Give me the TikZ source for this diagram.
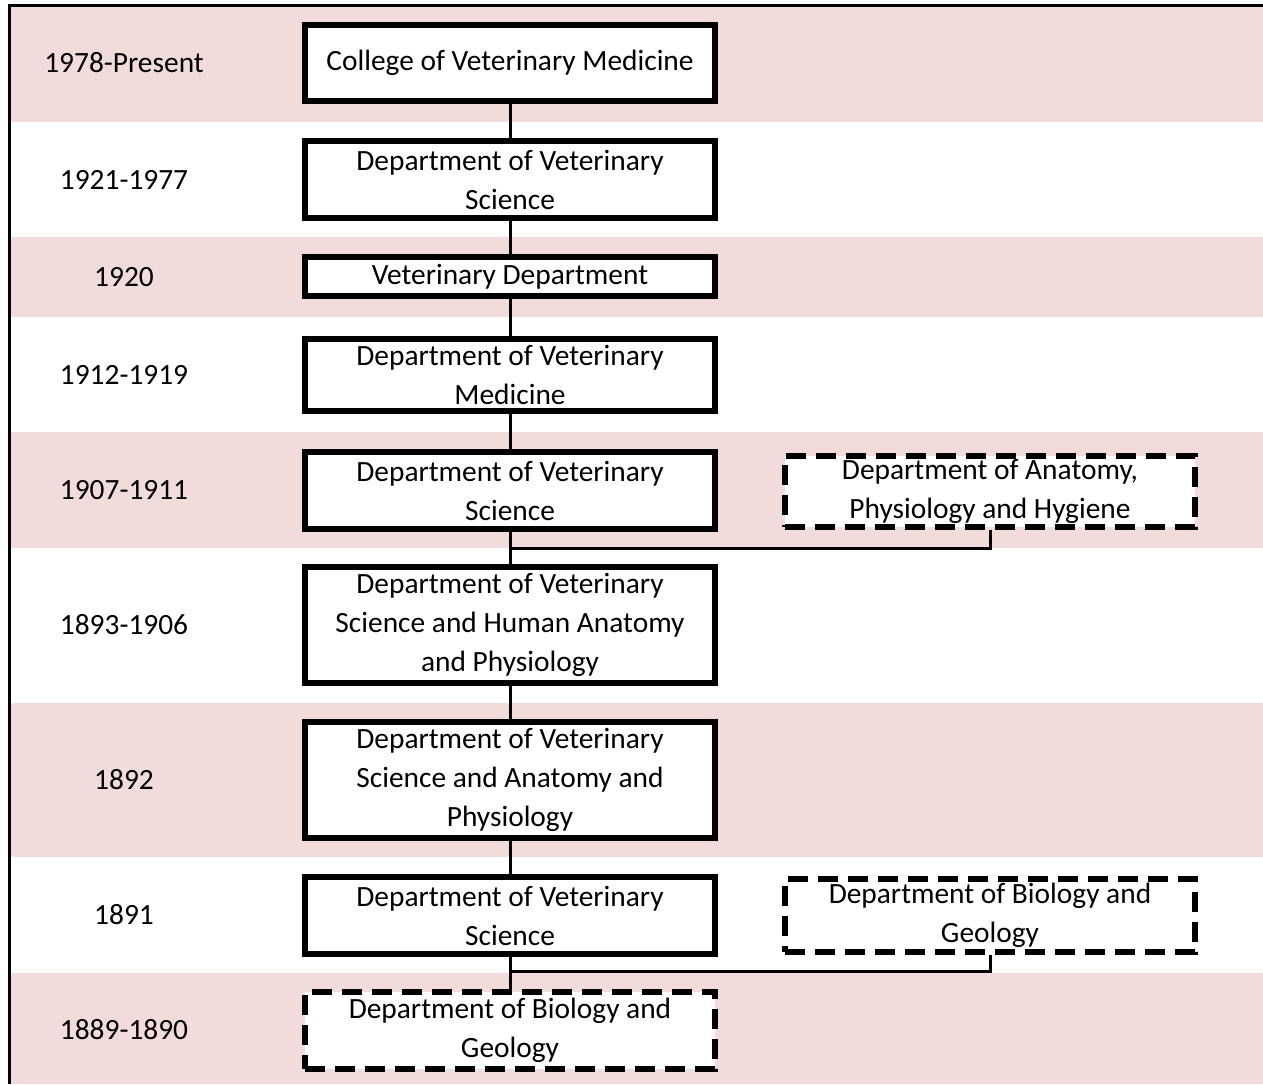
\documentclass[tikz,border=0pt]{standalone}
\usepackage{fontspec}
\setmainfont{Carlito}
\definecolor{rowpink}{HTML}{F2DCDB}

\begin{document}
\begin{tikzpicture}[
		x=1pt, y=-1pt,
		font=\fontsize{29.4}{39}\selectfont,
		unit/.style={draw, line width=6pt, fill=white, minimum width=410pt, align=center, inner sep=0pt},
		oldunit/.style={unit, dash pattern=on 20pt off 10pt},
		link/.style={line width=3pt},
%		year/.style={align=center},
		]
	\useasboundingbox (0,0) rectangle (1263,1084);
	% shaded rows
	\foreach \ya/\yb in {7/122, 237/317, 432/548, 703/857, 973/1084}
		\fill[rowpink] (11,\ya) rectangle (1263,\yb);
	\draw[line width=3.5pt] (8,5.5) -- (1263,5.5);
	\draw[line width=3.5pt] (9.5,4) -- (9.5,1084);

	% years
	\node (y1) at (124,63) {1978-Present};
	\node (y2) at (124,180) {1921-1977};
	\node (y3) at (124,277) {1920};
	\node (y4) at (124,375) {1912-1919};
	\node (y5) at (124,490) {1907-1911};
	\node (y6) at (124,625) {1893-1906};
	\node (y7) at (124,780) {1892};
	\node (y8) at (124,915) {1891};
	\node (y9) at (124,1030) {1889-1890};

	% units
	\node[unit, minimum height=76pt] (cvm) at (510,63) {College of Veterinary Medicine};
	\node[unit, minimum height=77pt] (dvs21) at (510,179.5) {Department of Veterinary\\Science};
	\node[unit, minimum height=39pt] (vd) at (510,276.5) {Veterinary Department};
	\node[unit, minimum height=72pt] (dvm) at (510,375) {Department of Veterinary\\Medicine};
	\node[unit, minimum height=77pt] (dvs07) at (510,490.5) {Department of Veterinary\\Science};
	\node[oldunit, minimum height=71pt] (daph) at (990,491) {Department of Anatomy,\\Physiology and Hygiene};
	\node[unit, minimum height=116pt] (dvsha) at (510,625) {Department of Veterinary\\Science and Human Anatomy\\and Physiology};
	\node[unit, minimum height=116pt] (dvsap) at (510,780) {Department of Veterinary\\Science and Anatomy and\\Physiology};
	\node[unit, minimum height=77pt] (dvs91) at (510,915.5) {Department of Veterinary\\Science};
	\node[oldunit, minimum height=73pt] (dbg91) at (990,915.5) {Department of Biology and\\Geology};
	\node[oldunit, minimum height=77pt] (dbg89) at (510,1030.5) {Department of Biology and\\Geology};

	% links
	\coordinate (j07) at (510,548);
	\coordinate (j91) at (510,971);
	\draw[link] (cvm) -- (dvs21);
	\draw[link] (dvs21) -- (vd);
	\draw[link] (vd) -- (dvm);
	\draw[link] (dvm) -- (dvs07);
	\draw[link] (dvs07) -- (dvsha);
	\draw[link] (daph.south) |- (j07);
	\draw[link] (dvsha) -- (dvsap);
	\draw[link] (dvsap) -- (dvs91);
	\draw[link] (dvs91) -- (dbg89);
	\draw[link] (dbg91.south) |- (j91);
\end{tikzpicture}
\end{document}
